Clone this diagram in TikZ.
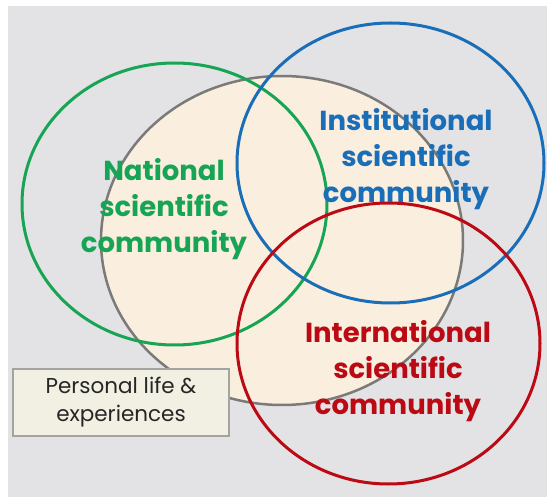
\documentclass[tikz,border=0pt]{standalone}
\usepackage{fontspec}
\setmainfont{Poppins}
\definecolor{bggray}{HTML}{E3E3E5}
\definecolor{cream}{HTML}{FAEEDE}
\definecolor{ringgray}{HTML}{7A7A78}
\definecolor{cgreen}{HTML}{17A555}
\definecolor{cblue}{HTML}{1A6EB8}
\definecolor{cred}{HTML}{BB0A14}
\definecolor{boxfill}{HTML}{F1F0E3}
\definecolor{boxline}{HTML}{A3A3A0}
\tikzset{
  ring/.style={draw, line width=3pt},
  bigtext/.style={font=\bfseries\fontsize{27.5}{36}\selectfont, align=center, inner sep=0pt},
  personbox/.style={draw=boxline, fill=boxfill, line width=1.2pt, minimum width=216pt, minimum height=67pt, inner sep=0pt, align=center, font=\fontsize{21.5}{28}\selectfont, text=black!85}
}
\begin{document}
\begin{tikzpicture}[x=1pt, y=-1pt]
\useasboundingbox (0,0) rectangle (547,497);
\fill[white] (0,0) rectangle (547,497);
\fill[bggray] (8,6) rectangle (547,497);
% personal life ellipse
\filldraw[fill=cream, draw=ringgray, line width=2.5pt] (282,240.5) ellipse [x radius=181, y radius=164.5];
% rings
\draw[ring, cgreen] (174.5,204) ellipse [x radius=152.5, y radius=141];
\draw[ring, cblue] (390.5,163) ellipse [x radius=153.5, y radius=140];
\draw[ring, cred] (388.5,343.5) ellipse [x radius=151.5, y radius=140.5];
% labels
\node[bigtext, text=cgreen] (nat) at (164,209) {National\\scientific\\community};
\node[bigtext, text=cblue] (inst) at (406,159) {Institutional\\scientific\\community};
\node[bigtext, text=cred] (intl) at (398,371) {International\\scientific\\community};
\node[personbox] (pers) at (121,402.5) {Personal life \&\\experiences};
\end{tikzpicture}
\end{document}
